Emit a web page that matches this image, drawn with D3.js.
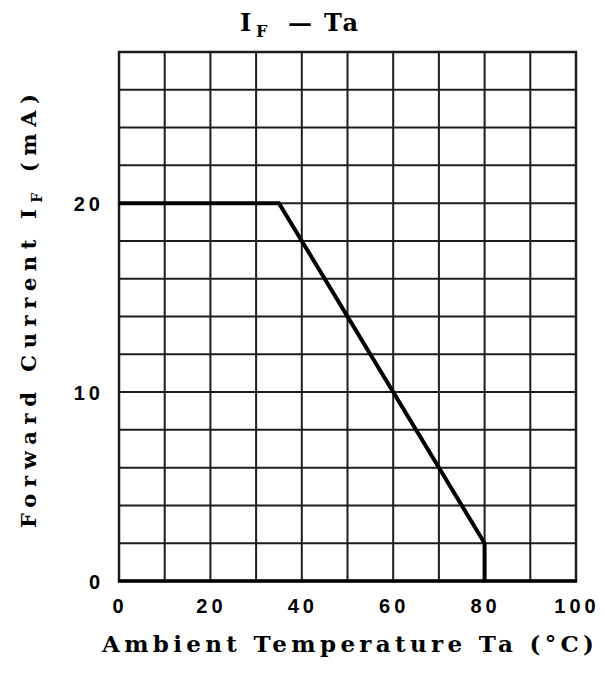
<!DOCTYPE html>
<html><head><meta charset="utf-8">
<script src="https://cdn.jsdelivr.net/npm/d3@7"></script>
<style>body{margin:0;background:#fff}svg{display:block}</style>
</head><body>
<svg id="c" width="605" height="677"></svg>
<script>
// Data
const curveTemp = [0, 35, 80, 80];      // Ambient temperature Ta (°C)
const curveCurrent = [20, 20, 2, 0];    // Forward current IF (mA)
const xTicks = [0, 20, 40, 60, 80, 100];
const yTicks = [0, 10, 20];
const xGrid = [0,10,20,30,40,50,60,70,80,90,100];
const yGrid = [0,2,4,6,8,10,12,14,16,18,20,22,24,26,28];

const svg = d3.select("#c");
const x = d3.scaleLinear().domain([0,100]).range([119,576]);
const y = d3.scaleLinear().domain([0,28]).range([581,52]);
const ink = "#1c1c1c";
const serif = "'DejaVu Serif','Liberation Serif',serif";

// Grid
svg.append("g").selectAll("line").data(xGrid).join("line")
  .attr("x1",d=>x(d)).attr("x2",d=>x(d)).attr("y1",y(0)).attr("y2",y(28))
  .attr("stroke",ink).attr("stroke-width",2);
svg.append("g").selectAll("line").data(yGrid).join("line")
  .attr("y1",d=>y(d)).attr("y2",d=>y(d)).attr("x1",x(0)).attr("x2",x(100))
  .attr("stroke",ink).attr("stroke-width",2);
// Frame
svg.append("rect").attr("x",x(0)).attr("y",y(28)).attr("width",x(100)-x(0)).attr("height",y(0)-y(28))
  .attr("fill","none").attr("stroke",ink).attr("stroke-width",2.5);
svg.append("line").attr("x1",x(0)-1).attr("x2",x(100)+1).attr("y1",y(0)).attr("y2",y(0))
  .attr("stroke","#000").attr("stroke-width",3.5);

// Curve
const pts = curveTemp.map((t,i)=>[t,curveCurrent[i]]);
svg.append("path").datum(pts)
  .attr("d", d3.line().x(d=>x(d[0])).y(d=>y(d[1])))
  .attr("fill","none").attr("stroke","#000").attr("stroke-width",4).attr("stroke-linejoin","miter");

// Tick labels
const tickFont = "'Liberation Sans','Arial',sans-serif";
svg.append("g").selectAll("text").data(xTicks).join("text")
  .attr("x",d=>x(d)+1).attr("y",613)
  .attr("text-anchor","middle")
  .attr("font-family",tickFont).attr("font-weight","bold").attr("font-size",20)
  .attr("letter-spacing",4).attr("fill","#000").text(d=>d);
svg.append("g").selectAll("text").data(yTicks).join("text")
  .attr("x",104).attr("y",d=>y(d)+8)
  .attr("text-anchor","end")
  .attr("font-family",tickFont).attr("font-weight","bold").attr("font-size",20)
  .attr("letter-spacing",4).attr("fill","#000").text(d=>d);

// Title
const title = svg.append("text").attr("x",240).attr("y",31)
  .attr("font-family",serif).attr("font-weight","bold")
  .attr("font-size",24).attr("fill","#000");
title.append("tspan").text("I");
title.append("tspan").attr("x",256).attr("dy",6).attr("font-size",16).text("F");
title.append("tspan").attr("x",288).attr("dy",-6).text("\u2014");
title.append("tspan").attr("x",324).attr("letter-spacing",3).text("Ta");

// X axis label
svg.append("text").attr("x",102).attr("y",652)
  .attr("font-family",serif).attr("font-weight","bold")
  .attr("font-size",23).attr("textLength",492).attr("lengthAdjust","spacing").attr("fill","#000")
  .text("Ambient Temperature Ta  (\u00b0C)");

// Y axis label
const yl = svg.append("text").attr("transform","rotate(-90)")
  .attr("x",-528).attr("y",36)
  .attr("font-family",serif).attr("font-weight","bold")
  .attr("font-size",21).attr("textLength",434).attr("lengthAdjust","spacing").attr("fill","#000");
yl.append("tspan").text("Forward Current I");
yl.append("tspan").attr("dy",6).attr("font-size",14).text("F");
yl.append("tspan").attr("dy",-6).text("  (mA)");
</script>
</body></html>
